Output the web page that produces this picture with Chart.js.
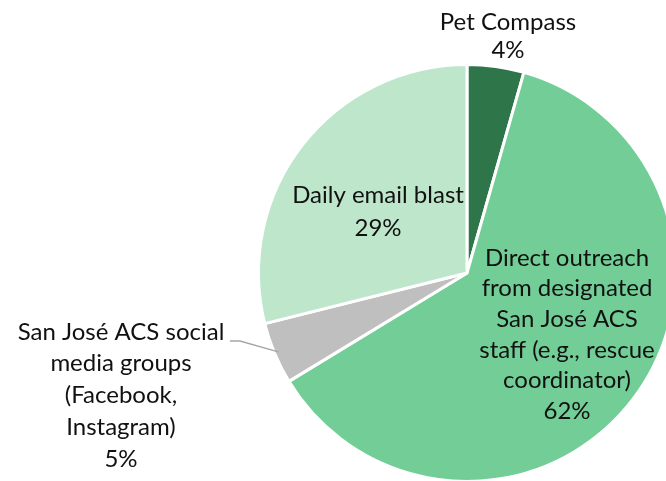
<!DOCTYPE html>
<html>
<head>
<meta charset="utf-8">
<script src="https://cdn.jsdelivr.net/npm/chart.js@4"></script>
<style>
  html, body { margin: 0; padding: 0; background: #fff; overflow: hidden; }
  #wrap { width: 680px; height: 490px; }
</style>
</head>
<body>
<div id="wrap"><canvas id="myPieChart" width="680" height="490"></canvas></div>
<script>
// slices, clockwise from 12 o'clock
const categories = [
    ['Pet Compass'],
    ['Direct outreach', 'from designated', 'San José ACS', 'staff (e.g., rescue', 'coordinator)'],
    ['San José ACS social', 'media groups', '(Facebook,', 'Instagram)'],
    ['Daily email blast']
];
const shares = [4.4, 61.9, 4.8, 28.9];
const colors = ['#2e7549', '#72ce96', '#bfbfbf', '#bde6cb'];

// where each label block sits, relative to the pie centre
const labelSpots = [
    { dx: 41, dy: -251, lh: 28 },
    { dx: 100, dy: -15, lh: 30.6 },
    { dx: -346, dy: 59, lh: 31.75 },
    { dx: -89, dy: -78, lh: 33 }
];

const sliceLabels = {
    id: 'sliceLabels',
    afterDatasetsDraw(chart) {
        const ctx = chart.ctx;
        const arcs = chart.getDatasetMeta(0).data;
        const cx = arcs[0].x, cy = arcs[0].y;
        ctx.save();
        ctx.font = '24px Lato';
        ctx.fillStyle = '#111';
        ctx.textAlign = 'center';
        ctx.textBaseline = 'middle';
        categories.forEach((lines, i) => {
            const spot = labelSpots[i];
            const all = lines.concat([Math.round(shares[i]) + '%']);
            all.forEach((t, j) => {
                ctx.fillText(t, cx + spot.dx, cy + spot.dy + j * spot.lh);
            });
        });
        // leader line for the small grey slice
        const a = arcs[2];
        const mid = (a.startAngle + a.endAngle) / 2;
        const ex = cx + Math.cos(mid) * (a.outerRadius - 4);
        const ey = cy + Math.sin(mid) * (a.outerRadius - 4);
        ctx.strokeStyle = '#a6a6a6';
        ctx.lineWidth = 1.5;
        ctx.beginPath();
        ctx.moveTo(cx - 237, cy + 68);
        ctx.lineTo(cx - 227, cy + 68);
        ctx.lineTo(ex, ey);
        ctx.stroke();
        ctx.restore();
    }
};

new Chart(document.getElementById('myPieChart').getContext('2d'), {
    type: 'pie',
    data: {
        labels: categories.map(c => c.join(' ')),
        datasets: [{
            data: shares,
            backgroundColor: colors,
            borderColor: '#fff',
            borderWidth: 3
        }]
    },
    options: {
        responsive: false,
        animation: false,
        layout: { padding: { top: 63, bottom: 7, left: 257, right: 3 } },
        plugins: { legend: { display: false }, tooltip: { enabled: false } }
    },
    plugins: [sliceLabels]
});
</script>
</body>
</html>
